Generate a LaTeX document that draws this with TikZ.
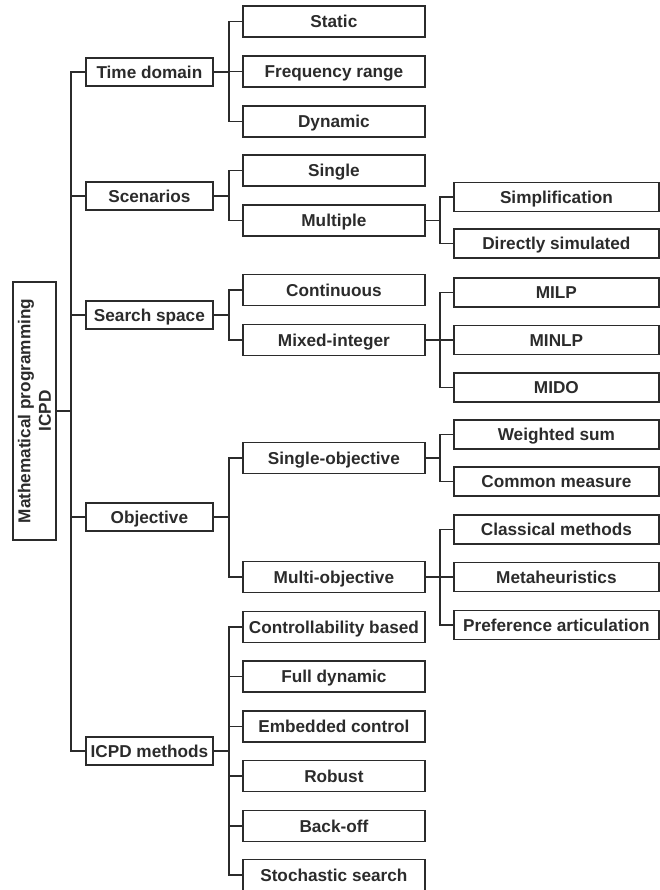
\documentclass[tikz,border=0pt]{standalone}
\usepackage{fontspec}
\setmainfont{Liberation Sans}
\definecolor{GrisTrait}{HTML}{2B2B2B}
\usetikzlibrary{positioning}
\tikzset{
	boite/.style={draw=GrisTrait, line width=1.8pt, text=GrisTrait, inner sep=0pt, anchor=west,
		font=\bfseries\fontsize{17.2pt}{20.5pt}\selectfont},
	ligne/.style={boite, text height=12.6pt, text depth=0pt},
	niveauA/.style={ligne, minimum width=127pt, minimum height=28pt},
	niveauB/.style={ligne, minimum width=182pt, minimum height=31pt},
	niveauC/.style={ligne, minimum width=205pt, minimum height=29pt},
	lien/.style={draw=GrisTrait, line width=1.8pt}
}
\begin{document}
\begin{tikzpicture}[x=1pt, y=-1pt]
    \useasboundingbox (0,0) rectangle (659,890);
    \def\xA{85}
    \def\xB{242}
    \def\xC{453}
    % racine
    \node[boite, anchor=center, rotate=90, align=center, minimum width=258pt, minimum height=43pt] (root) at (34.5,411) {Mathematical programming\\ICPD};
    % premier niveau
    \node[niveauA] (time) at (\xA,72) {Time domain};
    \node[niveauA] (scen) at (\xA,196) {Scenarios};
    \node[niveauA] (search) at (\xA,315) {Search space};
    \node[niveauA] (obj) at (\xA,517) {Objective};
    \node[niveauA] (icpd) at (\xA,751) {ICPD methods};
    % deuxieme niveau
    \foreach \nom/\y/\txt in {static/21.5/Static, freq/71.5/Frequency range, dyn/121.5/Dynamic,
        single/170.5/Single, multi/220.5/Multiple, cont/290/Continuous, mixed/340/Mixed-integer,
        sobj/458/Single-objective, mobj/577/Multi-objective, ctrl/627/Controllability based,
        full/676.5/Full dynamic, embed/726.5/Embedded control, robust/776/Robust,
        backoff/826/Back-off, stoch/875/Stochastic search} {
        \node[niveauB] (\nom) at (\xB,\y) {\txt};
    }
    % troisieme niveau
    \foreach \nom/\y/\txt in {simpl/197/Simplification, direct/243.5/Directly simulated,
        milp/292.5/MILP, minlp/340/MINLP, mido/387.5/MIDO, wsum/434.5/Weighted sum,
        cmeas/481.5/Common measure, classic/529.5/Classical methods, meta/577/Metaheuristics,
        pref/625/Preference articulation} {
        \node[niveauC] (\nom) at (\xC,\y) {\txt};
    }
    % liens
    \foreach \c in {time,scen,search,obj,icpd}
        \draw[lien] (root.south) -- ++(14,0) |- (\c.west);
    \foreach \c in {static,freq,dyn}
        \draw[lien] (time.east) -- ++(15,0) |- (\c.west);
    \foreach \c in {single,multi}
        \draw[lien] (scen.east) -- ++(15,0) |- (\c.west);
    \foreach \c in {cont,mixed}
        \draw[lien] (search.east) -- ++(15,0) |- (\c.west);
    \foreach \c in {sobj,mobj}
        \draw[lien] (obj.east) -- ++(15,0) |- (\c.west);
    \foreach \c in {ctrl,full,embed,robust,backoff,stoch}
        \draw[lien] (icpd.east) -- ++(15,0) |- (\c.west);
    \foreach \c in {simpl,direct}
        \draw[lien] (multi.east) -- ++(14,0) |- (\c.west);
    \foreach \c in {milp,minlp,mido}
        \draw[lien] (mixed.east) -- ++(14,0) |- (\c.west);
    \foreach \c in {wsum,cmeas}
        \draw[lien] (sobj.east) -- ++(14,0) |- (\c.west);
    \foreach \c in {classic,meta,pref}
        \draw[lien] (mobj.east) -- ++(14,0) |- (\c.west);
\end{tikzpicture}
\end{document}
